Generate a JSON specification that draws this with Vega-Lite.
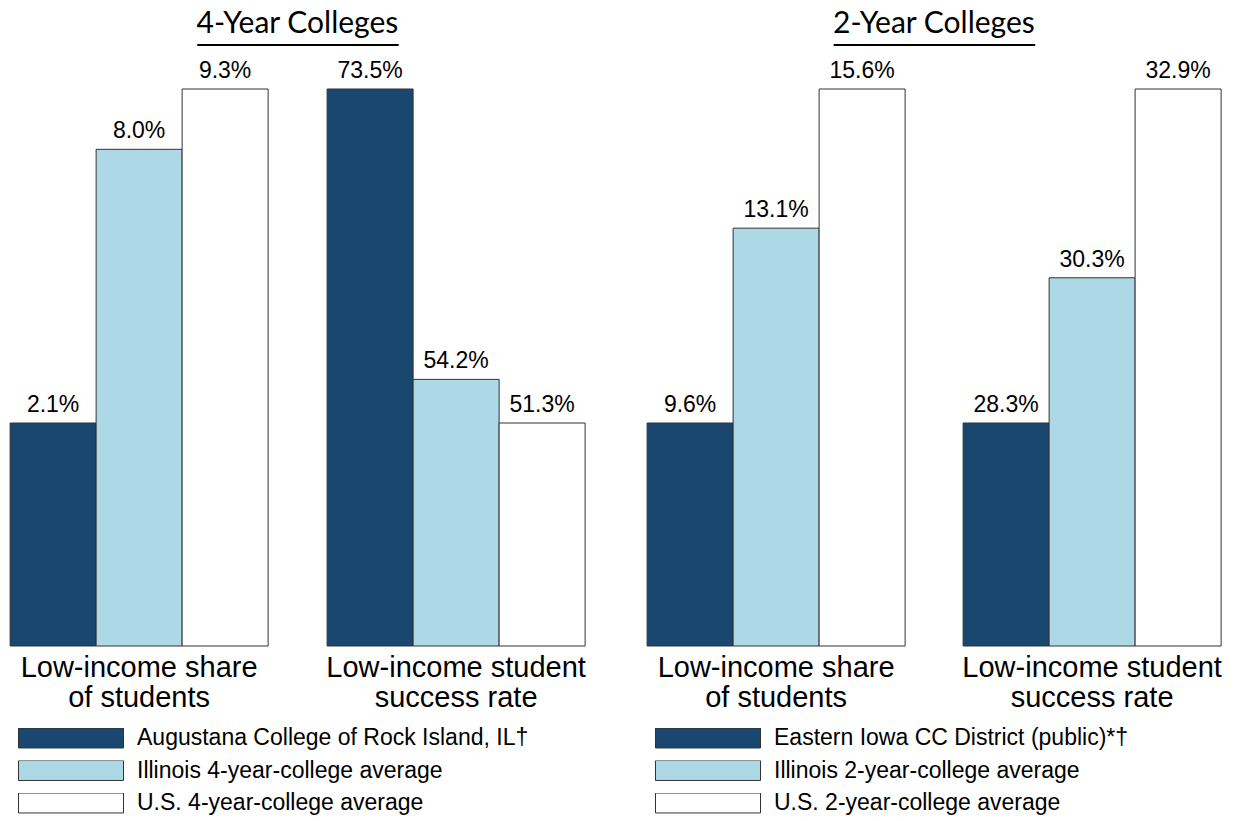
{
  "$schema": "https://vega.github.io/schema/vega-lite/v6.json",
  "padding": {"left": 9, "top": 8, "right": 5, "bottom": 5},
  "datasets": {
    "fouryear": [
      {"measure": "Low-income share of students", "series": "Augustana College of Rock Island, IL†", "value": 0.021},
      {"measure": "Low-income share of students", "series": "Illinois 4-year-college average", "value": 0.080},
      {"measure": "Low-income share of students", "series": "U.S. 4-year-college average", "value": 0.093},
      {"measure": "Low-income student success rate", "series": "Augustana College of Rock Island, IL†", "value": 0.735},
      {"measure": "Low-income student success rate", "series": "Illinois 4-year-college average", "value": 0.542},
      {"measure": "Low-income student success rate", "series": "U.S. 4-year-college average", "value": 0.513}
    ],
    "twoyear": [
      {"measure": "Low-income share of students", "series": "Eastern Iowa CC District (public)*†", "value": 0.096},
      {"measure": "Low-income share of students", "series": "Illinois 2-year-college average", "value": 0.131},
      {"measure": "Low-income share of students", "series": "U.S. 2-year-college average", "value": 0.156},
      {"measure": "Low-income student success rate", "series": "Eastern Iowa CC District (public)*†", "value": 0.283},
      {"measure": "Low-income student success rate", "series": "Illinois 2-year-college average", "value": 0.303},
      {"measure": "Low-income student success rate", "series": "U.S. 2-year-college average", "value": 0.329}
    ]
  },
  "spacing": 60,
  "hconcat": [
    {
      "vconcat": [
        {
          "data": {"name": "fouryear"},
          "width": 201,
          "height": 1,
          "view": {"stroke": "black", "strokeWidth": 1, "fill": null},
          "title": {"text": "4-Year Colleges", "font": "Lato", "fontSize": 30, "fontWeight": "normal", "color": "black", "anchor": "middle", "frame": "group", "offset": 0},
          "mark": {"type": "text", "text": ""},
          "encoding": {}
        },
        {
          "data": {"name": "fouryear"},
          "facet": {
            "column": {
              "field": "measure", "type": "nominal",
              "header": {
                "title": null, "labelOrient": "bottom", "labelFont": "Liberation Sans", "labelFontSize": 29, "labelColor": "black", "labelLineHeight": 30, "labelPadding": 7,
                "labelExpr": "datum.value == 'Low-income share of students' ? ['Low-income share', 'of students'] : ['Low-income student', 'success rate']"
              }
            }
          },
          "spacing": {"column": 57},
          "resolve": {"scale": {"y": "independent"}},
          "spec": {
            "width": 258,
            "height": 557,
            "encoding": {
              "x": {"field": "series", "type": "nominal", "sort": null, "axis": null, "scale": {"paddingInner": 0, "paddingOuter": 0}},
              "y": {"field": "value", "type": "quantitative", "axis": null, "stack": null, "scale": {"zero": false, "nice": false, "range": [334, 0]}}
            },
            "layer": [
              {
                "mark": {"type": "bar", "stroke": "#333333", "strokeWidth": 1},
                "encoding": {
                  "y2": {"value": "height"},
                  "color": {
                    "field": "series", "type": "nominal",
                    "scale": {"domain": ["Augustana College of Rock Island, IL†", "Illinois 4-year-college average", "U.S. 4-year-college average"], "range": ["#1a476f", "#add8e6", "#ffffff"]},
                    "legend": {"title": null, "orient": "bottom", "direction": "vertical", "symbolType": "M-1,-0.19H1V0.19H-1Z", "symbolSize": 11025, "symbolStrokeWidth": 1, "symbolStrokeColor": "#333333", "clipHeight": 20, "rowPadding": 9.5, "labelFontSize": 23, "labelFont": "Liberation Sans", "labelColor": "black", "symbolOffset": 8, "labelOffset": 13, "labelLimit": 600, "symbolOpacity": 1, "offset": 15}
                  }
                }
              },
              {
                "mark": {"type": "text", "baseline": "alphabetic", "dy": -11, "fontSize": 23, "font": "Liberation Sans", "color": "black"},
                "encoding": {"text": {"field": "value", "type": "quantitative", "format": ".1%"}}
              }
            ]
          }
        }
      ],
      "spacing": 10,
      "center": true
    },
    {
      "vconcat": [
        {
          "data": {"name": "twoyear"},
          "width": 201,
          "height": 1,
          "view": {"stroke": "black", "strokeWidth": 1, "fill": null},
          "title": {"text": "2-Year Colleges", "font": "Lato", "fontSize": 30, "fontWeight": "normal", "color": "black", "anchor": "middle", "frame": "group", "offset": 0},
          "mark": {"type": "text", "text": ""},
          "encoding": {}
        },
        {
          "data": {"name": "twoyear"},
          "facet": {
            "column": {
              "field": "measure", "type": "nominal",
              "header": {
                "title": null, "labelOrient": "bottom", "labelFont": "Liberation Sans", "labelFontSize": 29, "labelColor": "black", "labelLineHeight": 30, "labelPadding": 7,
                "labelExpr": "datum.value == 'Low-income share of students' ? ['Low-income share', 'of students'] : ['Low-income student', 'success rate']"
              }
            }
          },
          "spacing": {"column": 56},
          "resolve": {"scale": {"y": "independent"}},
          "spec": {
            "width": 258,
            "height": 557,
            "encoding": {
              "x": {"field": "series", "type": "nominal", "sort": null, "axis": null, "scale": {"paddingInner": 0, "paddingOuter": 0}},
              "y": {"field": "value", "type": "quantitative", "axis": null, "stack": null, "scale": {"zero": false, "nice": false, "range": [334, 0]}}
            },
            "layer": [
              {
                "mark": {"type": "bar", "stroke": "#333333", "strokeWidth": 1},
                "encoding": {
                  "y2": {"value": "height"},
                  "color": {
                    "field": "series", "type": "nominal",
                    "scale": {"domain": ["Eastern Iowa CC District (public)*†", "Illinois 2-year-college average", "U.S. 2-year-college average"], "range": ["#1a476f", "#add8e6", "#ffffff"]},
                    "legend": {"title": null, "orient": "bottom", "direction": "vertical", "symbolType": "M-1,-0.19H1V0.19H-1Z", "symbolSize": 11025, "symbolStrokeWidth": 1, "symbolStrokeColor": "#333333", "clipHeight": 20, "rowPadding": 9.5, "labelFontSize": 23, "labelFont": "Liberation Sans", "labelColor": "black", "symbolOffset": 8, "labelOffset": 13, "labelLimit": 600, "symbolOpacity": 1, "offset": 15}
                  }
                }
              },
              {
                "mark": {"type": "text", "baseline": "alphabetic", "dy": -11, "fontSize": 23, "font": "Liberation Sans", "color": "black"},
                "encoding": {"text": {"field": "value", "type": "quantitative", "format": ".1%"}}
              }
            ]
          }
        }
      ],
      "spacing": 10,
      "center": true
    }
  ],
  "resolve": {"scale": {"color": "independent"}},
  "config": {
    "view": {"stroke": null},
    "font": "Liberation Sans"
  }
}
